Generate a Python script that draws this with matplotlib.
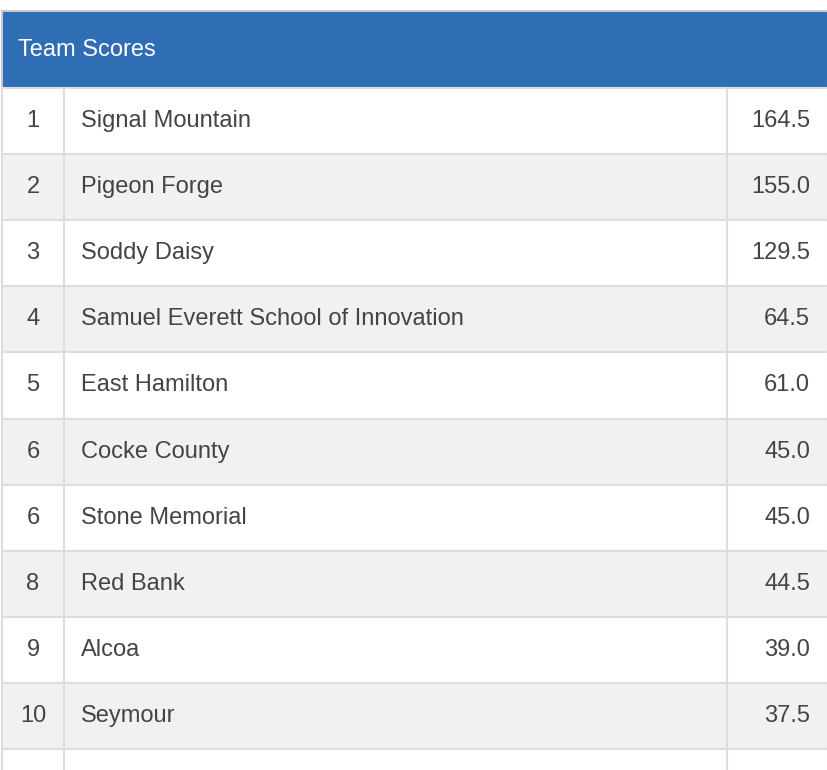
import matplotlib
matplotlib.use("Agg")
import matplotlib.pyplot as plt
from matplotlib.patches import Rectangle

title = "Team Scores"
ranks = ["1", "2", "3", "4", "5", "6", "6", "8", "9", "10", ""]
teams = ["Signal Mountain", "Pigeon Forge", "Soddy Daisy", "Samuel Everett School of Innovation",
         "East Hamilton", "Cocke County", "Stone Memorial", "Red Bank", "Alcoa", "Seymour", ""]
scores = ["164.5", "155.0", "129.5", "64.5", "61.0", "45.0", "45.0", "44.5", "39.0", "37.5", ""]

W, H = 828, 770
fig = plt.figure(figsize=(W / 100, H / 100), dpi=100)
ax = fig.add_axes([0, 0, 1, 1])
ax.set_xlim(0, W)
ax.set_ylim(H, 0)
ax.axis("off")

font = ["Liberation Sans", "DejaVu Sans"]
line = "#dddddd"
txt = "#444444"
x0, x1, x2, x3 = 2, 64, 727, 828
top, head_h, row_h = 11, 77, 66.1

ax.add_patch(Rectangle((x0, top), x3 - x0, head_h, facecolor="#2f6db5", edgecolor="#c9c9c9", lw=1.5))
ax.text(18, top + head_h / 2, title, color="white", fontsize=17, va="center", family=font)

for i, (r, t, s) in enumerate(zip(ranks, teams, scores)):
    y = top + head_h + i * row_h
    fc = "white" if i % 2 == 0 else "#f1f1f1"
    for a, b in [(x0, x1), (x1, x2), (x2, x3)]:
        ax.add_patch(Rectangle((a, y), b - a, row_h, facecolor=fc, edgecolor=line, lw=1.5))
    yc = y + row_h / 2
    ax.text(x1 / 2 + 1, yc, r, color=txt, fontsize=17, va="center", ha="center", family=font)
    ax.text(81, yc, t, color=txt, fontsize=17, va="center", family=font)
    ax.text(810, yc, s, color=txt, fontsize=17, va="center", ha="right", family=font)

fig.savefig("out.png", dpi=100)
